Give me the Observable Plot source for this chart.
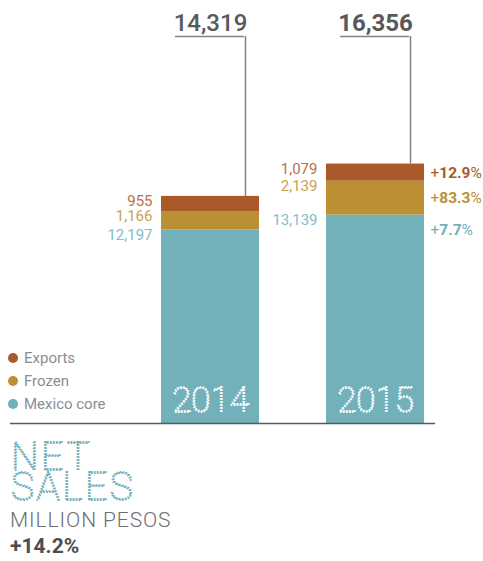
<!DOCTYPE html>
<html>
<head>
<meta charset="utf-8">
<script src="https://cdn.jsdelivr.net/npm/d3@7"></script>
<script src="https://cdn.jsdelivr.net/npm/@observablehq/plot@0.6"></script>
<style>
  body { margin: 0; background: #fff; }
  #wrap { position: relative; width: 483px; height: 561px; overflow: hidden; font-family: Roboto, "Noto Sans", sans-serif; }
  #chart { position: absolute; left: 0; top: 0; }
  #legend { position: absolute; left: 8px; top: 346px; font-size: 15px; color: #8d8d8f; }
  #legend .item { height: 23.3px; line-height: 20px; display: flex; align-items: center; }
  #legend .sw { width: 10px; height: 10px; border-radius: 50%; margin-right: 6px; }
  #foot { position: absolute; left: 0; top: 430px; }
  .dotted { fill: none; stroke-width: 1.9; stroke-dasharray: 0.01 3; stroke-linecap: round; }
</style>
</head>
<body>
<div id="wrap">
  <div id="chart"></div>
  <div id="legend"></div>
  <svg id="foot" width="483" height="131">
    <text class="dotted" x="11" y="40" font-family="Roboto, sans-serif" font-weight="100" font-size="39" letter-spacing="2.5" stroke="#72b0ba">NET</text>
    <text class="dotted" x="11" y="70" font-family="Roboto, sans-serif" font-weight="100" font-size="39" letter-spacing="2.5" stroke="#72b0ba">SALES</text>
    <text x="10" y="97" font-family="Roboto, sans-serif" font-size="21" font-weight="300" letter-spacing="0.9" fill="#6d6e71">MILLION PESOS</text>
    <text id="tg" x="10" y="123" font-family="Roboto, sans-serif" font-size="21" font-weight="700" fill="#4d4d4f"></text>
  </svg>
</div>
<script>
// ---- data ----
const years = ["2014", "2015"];
const segments = ["Mexico core", "Frozen", "Exports"];
const mexicoCore = [12197, 13139];
const frozen = [1166, 2139];
const exportsVals = [955, 1079];
const totals = [14319, 16356];
const growth2015 = ["+7.7%", "+83.3%", "+12.9%"]; // Mexico core, Frozen, Exports
const totalGrowth = "+14.2%";
const legendOrder = ["Exports", "Frozen", "Mexico core"];

// ---- styling ----
const barColors = {"Mexico core": "#72b0ba", "Frozen": "#bb9034", "Exports": "#a95a28"};
const labelColors = {"Mexico core": "#84bcc6", "Frozen": "#c9a24e", "Exports": "#bb7048"};
const yMax = 24400;

const seriesVals = {"Mexico core": mexicoCore, "Frozen": frozen, "Exports": exportsVals};
const rows = [];
years.forEach((yr, i) => segments.forEach(s => rows.push({year: yr, segment: s, value: seriesVals[s][i]})));
const totalRows = years.map((yr, i) => ({year: yr, total: totals[i]}));
const growthBySeg = Object.fromEntries(segments.map((s, i) => [s, growth2015[i]]));

const fmt = d3.format(",");
const narrow = "'Liberation Sans Narrow', 'Roboto', sans-serif";

const marks = [
  Plot.barY(rows, {x: "year", y: "value", fill: "segment"}),
  Plot.ruleY([0], {stroke: "#58595b", strokeWidth: 1.5}),
  Plot.ruleX(totalRows, {x: "year", y1: yMax, y2: "total", dx: 35, stroke: "#808285", strokeWidth: 1.5}),
  Plot.tickY(totalRows, {x: "year", y: () => yMax, insetLeft: 14, insetRight: 15, stroke: "#808285", strokeWidth: 1.5}),
  Plot.text(totalRows.filter(d => d.year === "2014"), {x: "year", y: () => yMax, dy: -13, text: d => fmt(d.total), fontSize: 24, fontWeight: 500, fill: "#58595b"}),
  Plot.text(totalRows.filter(d => d.year === "2015"), {x: "year", y: () => yMax, dy: -13, text: d => fmt(d.total), fontSize: 24, fontWeight: 700, fill: "#58595b"}),
  Plot.text(years, {x: d => d, y: () => 0, dy: -23, text: d => d, fontSize: 35, fontFamily: "Roboto, sans-serif", fontWeight: 100, fill: "none", stroke: "#ffffff", className: "yr"})
];
segments.forEach(s => {
  marks.push(Plot.text(rows, Plot.filter(d => d.segment === s, Plot.stackY2({x: "year", y: "value", text: d => fmt(d.value), dx: -58, dy: 5, textAnchor: "end", fontSize: 15, fontFamily: narrow, fill: labelColors[s]}))));
});
// growth labels (2015): exports & frozen centred in their segment, mexico core near its top
marks.push(Plot.text(rows, Plot.filter(d => d.year === "2015" && d.segment !== "Mexico core", Plot.stackY({x: "year", y: "value", text: d => growthBySeg[d.segment], dx: 55, textAnchor: "start", fontSize: 15.5, fill: "segment", className: "pct"}))));
marks.push(Plot.text(rows, Plot.filter(d => d.year === "2015" && d.segment === "Mexico core", Plot.stackY2({x: "year", y: "value", text: d => growthBySeg[d.segment], dx: 55, dy: 15, textAnchor: "start", fontSize: 15.5, fill: "segment", className: "pct"}))));

const chart = Plot.plot({
  width: 483,
  height: 430,
  marginTop: 36,
  marginBottom: 7,
  marginLeft: 10,
  marginRight: 48,
  style: {fontFamily: "Roboto, sans-serif", overflow: "visible", background: "transparent"},
  x: {domain: years, range: [160, 425], paddingInner: 0.4036, paddingOuter: 0, axis: null},
  y: {domain: [0, yMax], axis: null},
  color: {domain: segments, range: segments.map(s => barColors[s])},
  marks
});
document.getElementById("chart").appendChild(chart);

// dotted year labels
d3.select(chart).selectAll(".yr text").attr("class", "dotted");

// mixed weights in growth labels: "+" regular, number bold, "%" regular
d3.select(chart).selectAll(".pct text").each(function() {
  const t = this.textContent;
  const m = t.match(/^([+-])([\d.]+)(%)$/);
  if (!m) return;
  const sel = d3.select(this).text(null);
  sel.append("tspan").attr("font-weight", 400).text(m[1]);
  sel.append("tspan").attr("font-weight", 700).text(m[2]);
  sel.append("tspan").attr("font-weight", 400).text(m[3]);
});

// legend
const lg = d3.select("#legend");
legendOrder.forEach(s => {
  const it = lg.append("div").attr("class", "item");
  it.append("span").attr("class", "sw").style("background", barColors[s]);
  it.append("span").text(s);
});
d3.select("#tg").text(totalGrowth);
</script>
</body>
</html>
